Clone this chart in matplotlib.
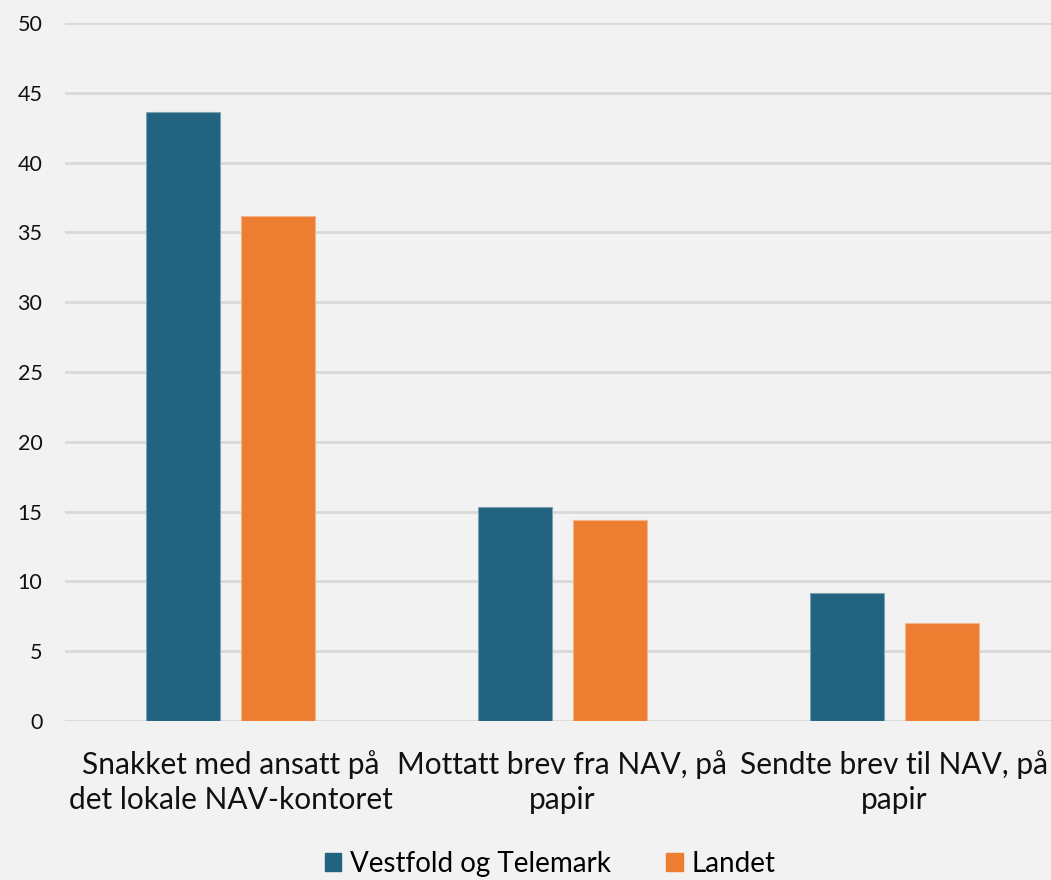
import numpy as np
import matplotlib
matplotlib.use("Agg")
import matplotlib.pyplot as plt
from matplotlib.patches import Patch

plt.rcParams['font.family'] = ['Lato', 'DejaVu Sans']

# data
categories = ["Snakket med ansatt på\ndet lokale NAV-kontoret",
              "Mottatt brev fra NAV, på\npapir",
              "Sendte brev til NAV, på\npapir"]
vestfold = [43.6, 15.3, 9.2]
landet = [36.2, 14.4, 7.0]
series_names = ["Vestfold og Telemark", "Landet"]
yticks = [0, 5, 10, 15, 20, 25, 30, 35, 40, 45, 50]

blue = '#22637f'
orange = '#ed7d31'
bg = '#f2f2f2'

W, H = 1051, 880
fig = plt.figure(figsize=(W / 100, H / 100), dpi=100, facecolor=bg)
# plot area runs past the right edge, like the original crop
ax = fig.add_axes([64.6 / W, 1 - 721 / H, (1060 - 64.6) / W, (721 - 23) / H])
ax.set_facecolor(bg)

x = np.arange(len(categories))
bw = 0.223
ax.bar(x - 0.143, vestfold, bw, color=blue, edgecolor='#7fa2b3', linewidth=0.8, zorder=3)
ax.bar(x + 0.143, landet, bw, color=orange, edgecolor='#f3b58c', linewidth=0.8, zorder=3)

ax.set_xlim(-0.5, 2.5)
ax.set_ylim(0, 50)
ax.set_yticks(yticks)
ax.yaxis.grid(True, color='#d9d9d9', linewidth=2, zorder=0)
ax.set_axisbelow(True)
for s in ax.spines.values():
    s.set_visible(False)
ax.tick_params(axis='y', length=0, pad=16, labelsize=15.5, labelcolor='#111111')
ax.tick_params(axis='x', length=0, pad=21)
ax.set_xticks(x)
ax.set_xticklabels(categories, fontsize=21.5, color='#111111', linespacing=1.3)

handles = [Patch(color=blue), Patch(color=orange)]
fig.legend(handles, series_names, loc='center', bbox_to_anchor=(550 / W, 1 - 864 / H),
           ncol=2, frameon=False, fontsize=20, handlelength=0.6, handleheight=0.6,
           handletextpad=0.3, columnspacing=2.0, borderaxespad=0)

fig.savefig('out.png', dpi=100, facecolor=bg)
